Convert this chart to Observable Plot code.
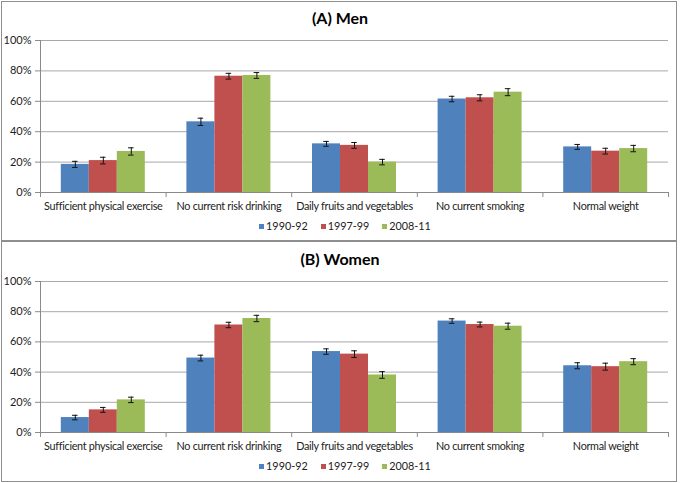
<!DOCTYPE html>
<html>
<head>
<meta charset="utf-8">
<script src="https://cdn.jsdelivr.net/npm/d3@7"></script>
<script src="https://cdn.jsdelivr.net/npm/@observablehq/plot@0.6"></script>
<style>
  body { margin: 0; background: #fff; font-family: Lato, "Open Sans", sans-serif; width: 680px; height: 483px; position: relative; overflow: hidden; }
  .panel { position: absolute; left: 1px; width: 676px; border: 1px solid #8e8e8e; box-sizing: border-box; }
  .title { position: absolute; left: 0; width: 680px; text-align: center; font-weight: bold; font-size: 16px; color: #000; line-height: 18px; }
  .chart { position: absolute; left: 0; }
  .chart text.cat { letter-spacing: -0.3px; }
  .legend { position: absolute; left: 5px; width: 680px; display: flex; justify-content: center; gap: 13px; font-size: 10.8px; color: #222; line-height: 14px; }
  .legend span.sw { display: inline-block; width: 5px; height: 5px; margin-right: 2px; vertical-align: 1px; }
</style>
</head>
<body>
<script>
const categories = ["Sufficient physical exercise", "No current risk drinking", "Daily fruits and vegetables", "No current smoking", "Normal weight"];
const periods = ["1990-92", "1997-99", "2008-11"];
const colors = ["#4F81BD", "#C0504D", "#9BBB59"];

// Men (%), one array per period, in category order
const men_1990 = [18.5, 46.5, 32.0, 61.5, 30.0];
const men_1997 = [21.0, 76.5, 31.0, 62.3, 27.2];
const men_2008 = [27.0, 77.0, 20.0, 66.0, 28.9];
const men_err_1990 = [2.0, 2.4, 1.6, 1.8, 1.6];
const men_err_1997 = [2.2, 1.9, 1.9, 2.0, 1.9];
const men_err_2008 = [2.4, 1.9, 1.8, 2.3, 2.1];

// Women (%)
const women_1990 = [9.9, 49.3, 53.6, 73.8, 44.2];
const women_1997 = [15.0, 71.2, 51.9, 71.5, 43.6];
const women_2008 = [21.6, 75.5, 38.1, 70.4, 46.9];
const women_err_1990 = [1.5, 1.9, 1.8, 1.5, 2.0];
const women_err_1997 = [1.6, 1.8, 2.2, 1.6, 2.3];
const women_err_2008 = [1.8, 2.1, 2.2, 2.0, 2.0];

const yTicks = [0, 20, 40, 60, 80, 100];

function rows(vals, errs) {
  const out = [];
  categories.forEach((c, i) => periods.forEach((p, j) => {
    out.push({cat: c, i, period: p, j, value: vals[j][i], err: errs[j][i]});
  }));
  return out;
}

const barW = 28 / 125.6;       // bar width as a fraction of a category slot
const capW = 0.022;            // half width of error-bar caps
const left = d => d.i + 0.5 + (d.j - 1.5) * barW;
const center = d => d.i + 0.5 + (d.j - 1) * barW;

function makeChart(data, innerH) {
  const idx = categories.map((c, i) => ({c, i}));
  return Plot.plot({
    width: 680,
    height: 12 + innerH + 22,
    marginLeft: 40,
    marginRight: 12,
    marginTop: 12,
    marginBottom: 22,
    style: {fontFamily: "Lato, 'Open Sans', sans-serif", fontSize: "11px", color: "#222", background: "transparent"},
    x: {domain: [0, categories.length], axis: null},
    y: {domain: [0, 100], axis: null},
    color: {domain: periods, range: colors},
    marks: [
      Plot.ruleY(yTicks.filter(t => t > 0), {stroke: "#a8a8a8", strokeWidth: 1}),
      Plot.rectY(data, {x1: left, x2: d => left(d) + barW, y: "value", fill: "period"}),
      Plot.ruleX(data, {x: center, y1: d => d.value - d.err, y2: d => d.value + d.err, stroke: "#111", strokeWidth: 1}),
      Plot.ruleY(data, {y: d => d.value + d.err, x1: d => center(d) - capW, x2: d => center(d) + capW, stroke: "#111", strokeWidth: 1}),
      Plot.ruleY(data, {y: d => d.value - d.err, x1: d => center(d) - capW, x2: d => center(d) + capW, stroke: "#111", strokeWidth: 1}),
      // axes
      Plot.ruleY([0], {stroke: "#8a8a8a"}),
      Plot.ruleX([0], {y1: 0, y2: 100, stroke: "#8a8a8a"}),
      Plot.ruleX(d3.range(categories.length + 1), {x: d => d, y1: 0, y2: -3.3, stroke: "#8a8a8a"}),
      Plot.ruleY(yTicks, {y: d => d, x1: 0, x2: 0.04, dx: -5, stroke: "#8a8a8a"}),
      Plot.text(yTicks, {x: 0, y: d => d, text: d => d + "%", textAnchor: "end", dx: -9, fill: "#222", fontSize: 11}),
      Plot.text(idx, {x: d => d.i + 0.5, y: 0, text: "c", dy: 14, fill: "#222", fontSize: 10.8, className: "catlabels"})
    ]
  });
}

function legend(top) {
  const div = document.createElement("div");
  div.className = "legend";
  div.style.top = top + "px";
  periods.forEach((p, j) => {
    const item = document.createElement("span");
    item.innerHTML = `<span class="sw" style="background:${colors[j]}"></span>${p}`;
    div.appendChild(item);
  });
  return div;
}

function panel(top, h) {
  const d = document.createElement("div");
  d.className = "panel";
  d.style.top = top + "px";
  d.style.height = h + "px";
  return d;
}

function title(text, top) {
  const d = document.createElement("div");
  d.className = "title";
  d.style.top = top + "px";
  d.textContent = text;
  return d;
}

function place(svg, top) {
  svg.classList.add("chart");
  svg.style.top = top + "px";
  // tighten category label tracking (Calibri-like width)
  svg.querySelectorAll("text").forEach(t => { if (categories.includes(t.textContent)) t.classList.add("cat"); });
  return svg;
}

const menData = rows([men_1990, men_1997, men_2008], [men_err_1990, men_err_1997, men_err_2008]);
const womenData = rows([women_1990, women_1997, women_2008], [women_err_1990, women_err_1997, women_err_2008]);

document.body.appendChild(panel(1, 240));
document.body.appendChild(panel(241, 241));
document.body.appendChild(title("(A) Men", 9));
document.body.appendChild(title("(B) Women", 250));
document.body.appendChild(place(makeChart(menData, 152), 28));
document.body.appendChild(place(makeChart(womenData, 151), 269));
document.body.appendChild(legend(219));
document.body.appendChild(legend(459));
</script>
</body>
</html>
